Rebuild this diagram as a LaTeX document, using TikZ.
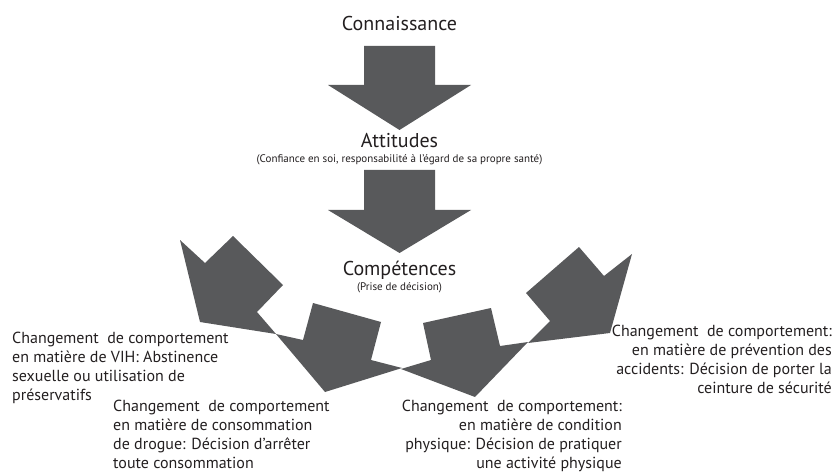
\documentclass[tikz,border=0pt]{standalone}
\usepackage{fontspec}
\setmainfont{PT Sans}
\definecolor{arrowgrey}{RGB}{88,89,91}
\definecolor{inkgrey}{RGB}{35,31,32}

\tikzset{
  stage/.style={font=\fontsize{20}{22}\selectfont, inner sep=0pt, text=inkgrey},
  stagenote/.style={font=\fontsize{11}{12}\selectfont, inner sep=0pt, text=inkgrey},
  change/.style={font=\fontsize{16}{19}\selectfont, inner sep=0pt, text=inkgrey},
  block/.style={fill=arrowgrey, draw=none}
}

\begin{document}
\begin{tikzpicture}[x=1pt,y=-1pt]
    \useasboundingbox (0,0) rectangle (835,473);
    % stages
    \node [stage, anchor=base] (know) at (399.5,31) {Connaissance};
    \node [stage, anchor=base] (attitudes) at (399.5,148) {Attitudes};
    \node [stagenote, anchor=base] (attnote) at (399.5,163) {(Confiance en soi, responsabilité à l'égard de sa propre santé)};
    \node [stage, anchor=base] (skills) at (399.5,275) {Compétences};
    \node [stagenote, anchor=base] (skillnote) at (399.5,290) {(Prise de décision)};
    % down arrows
    \fill [block] (364,46) -- (435,46) -- (435,85) -- (471,85) -- (399.5,130) -- (328,85) -- (364,85) -- cycle;
    \fill [block] (364,170) -- (435,170) -- (435,210) -- (471,210) -- (399.5,253) -- (328,210) -- (364,210) -- cycle;
    % fanned arrows
    \fill [block] (180,240) -- (205,263) -- (233,236) -- (283,285) -- (257,312) -- (276,334) -- (200,322) -- cycle;
    \fill [block] (276,334) -- (303,340) -- (313,303) -- (381,322) -- (371,360) -- (402,368) -- (325,392) -- cycle;
    \fill [block] (401,369) -- (431,360) -- (423,323) -- (491,308) -- (500,346) -- (528,342) -- (475,397) -- cycle;
    \fill [block] (528,343) -- (550,321) -- (526,293) -- (579,247) -- (604,276) -- (632,254) -- (610,333) -- cycle;
    % changes (base = last line)
    \node [change, anchor=base west, align=left] (hiv) at (12,400)
        {Changement\ \ de comportement\\en matière de VIH: Abstinence\\sexuelle ou utilisation de\\préservatifs};
    \node [change, anchor=base west, align=left] (drugs) at (113,468)
        {Changement\ \ de comportement\\en matière de consommation\\de drogue: Décision d’arrêter\\toute consommation};
    \node [change, anchor=base east, align=right] (fitness) at (622,468)
        {Changement\ \ de comportement:\\en matière de condition\\physique: Décision de pratiquer\\une activité physique};
    \node [change, anchor=base east, align=right] (safety) at (832,393)
        {Changement\ \ de comportement:\\en matière de prévention des\\accidents: Décision de porter la\\ceinture de sécurité};
\end{tikzpicture}
\end{document}
